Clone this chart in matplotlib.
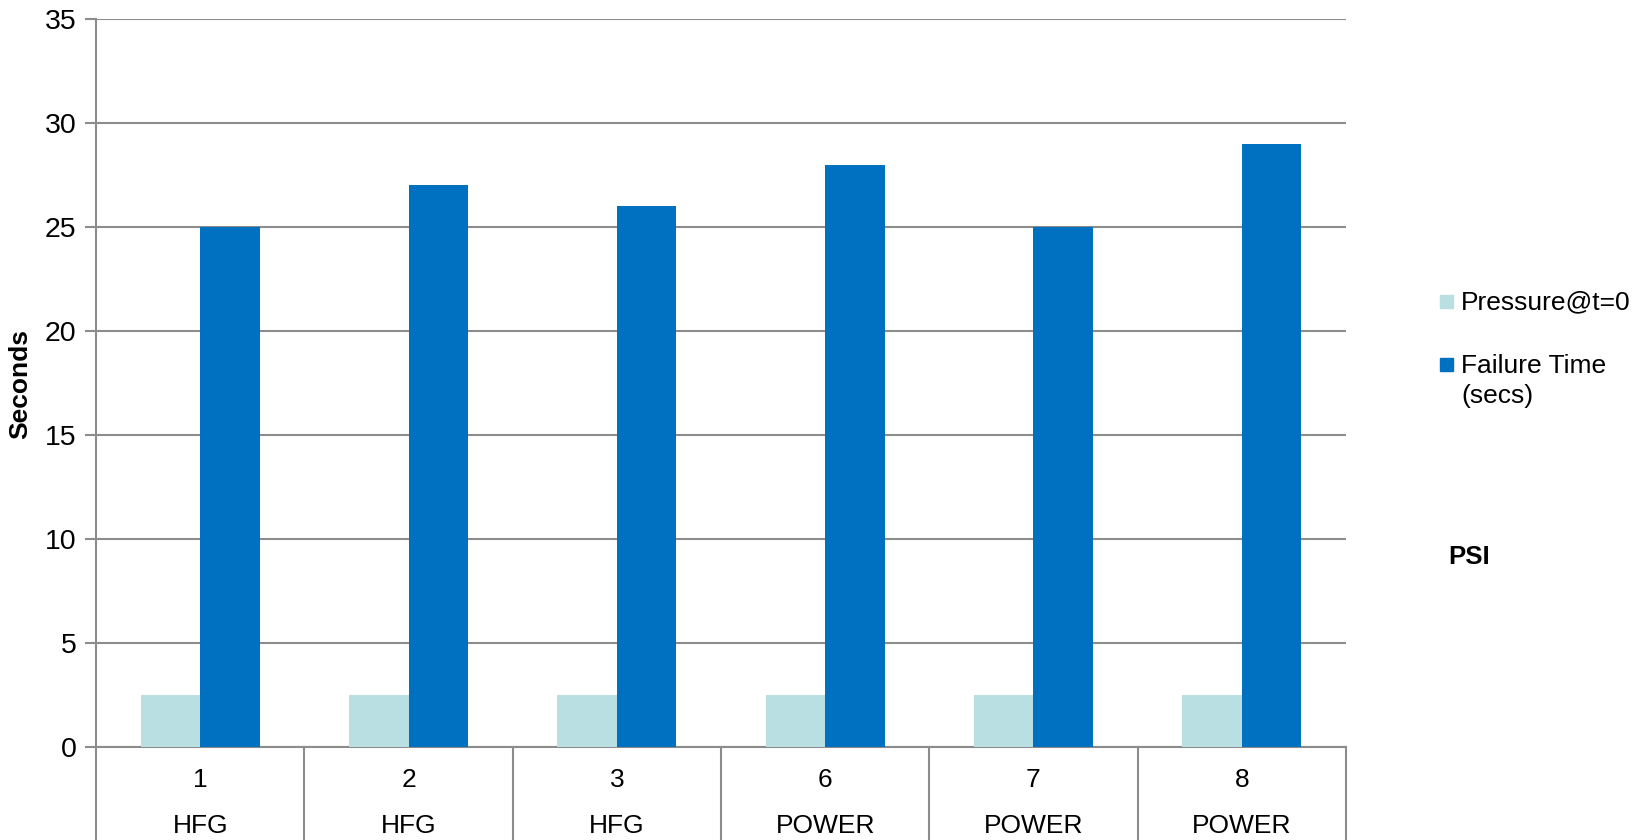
import numpy as np
import matplotlib.pyplot as plt
from matplotlib.patches import Rectangle
from matplotlib.transforms import blended_transform_factory

plt.rcParams['font.family'] = ['Liberation Sans', 'DejaVu Sans']

# data
runs = ['1', '2', '3', '6', '7', '8']
groups = ['HFG', 'HFG', 'HFG', 'POWER', 'POWER', 'POWER']
pressure = [2.5, 2.5, 2.5, 2.5, 2.5, 2.5]
failure = [25, 27, 26, 28, 25, 29]
series = ['Pressure@t=0', 'Failure Time\n(secs)']

light = '#B9DFE3'
dark = '#0070C0'
grid_c = '#8C8C8C'

fig = plt.figure(figsize=(16.48, 8.4), dpi=100)
ax = fig.add_axes([0.0583, 0.1107, 0.7584, 0.8667])

x = np.arange(len(runs))
w = 0.286
ax.bar(x - w/2, pressure, w, color=light, zorder=3)
ax.bar(x + w/2, failure, w, color=dark, zorder=3)

ax.set_xlim(-0.5, len(runs) - 0.5)
ax.set_ylim(0, 35)
ax.set_yticks(range(0, 36, 5))
ax.yaxis.grid(True, color=grid_c, lw=1.5, zorder=0)
ax.tick_params(axis='y', length=8, width=1.5, color=grid_c, labelsize=20.5, pad=6)
ax.tick_params(axis='x', length=0, labelbottom=False)
for s in ['top', 'right']:
    ax.spines[s].set_visible(False)
for s in ['left', 'bottom']:
    ax.spines[s].set_color(grid_c)
    ax.spines[s].set_linewidth(1.5)

# two-level category axis
tr = blended_transform_factory(ax.transData, ax.transAxes)
for i in range(len(runs) + 1):
    ax.plot([i - 0.5, i - 0.5], [0, -0.15], transform=tr, color=grid_c,
            lw=1.5, clip_on=False)
for i, (r, g) in enumerate(zip(runs, groups)):
    ax.text(i, -0.045, r, transform=tr, ha='center', va='center', fontsize=19)
    ax.text(i, -0.108, g, transform=tr, ha='center', va='center', fontsize=19)

fig.text(0.0125, 0.543, 'Seconds', rotation=90, ha='center', va='center',
         fontsize=19, fontweight='bold')
fig.text(0.8787, 0.337, 'PSI', ha='left', va='center', fontsize=18.5,
         fontweight='bold')

# legend drawn by hand (swatch next to first line of each label)
sw = 13
for col, lab, yc, yt in [(light, series[0], 0.6405, 0.6405),
                         (dark, series[1], 0.5655, 0.5464)]:
    fig.patches.append(Rectangle((1440 / 1648, yc - sw / 2 / 840), sw / 1648,
                                 sw / 840, transform=fig.transFigure,
                                 color=col))
    fig.text(1461 / 1648, yt, lab, ha='left', va='center', fontsize=19,
             linespacing=1.35)

fig.savefig('out.png', dpi=100)
